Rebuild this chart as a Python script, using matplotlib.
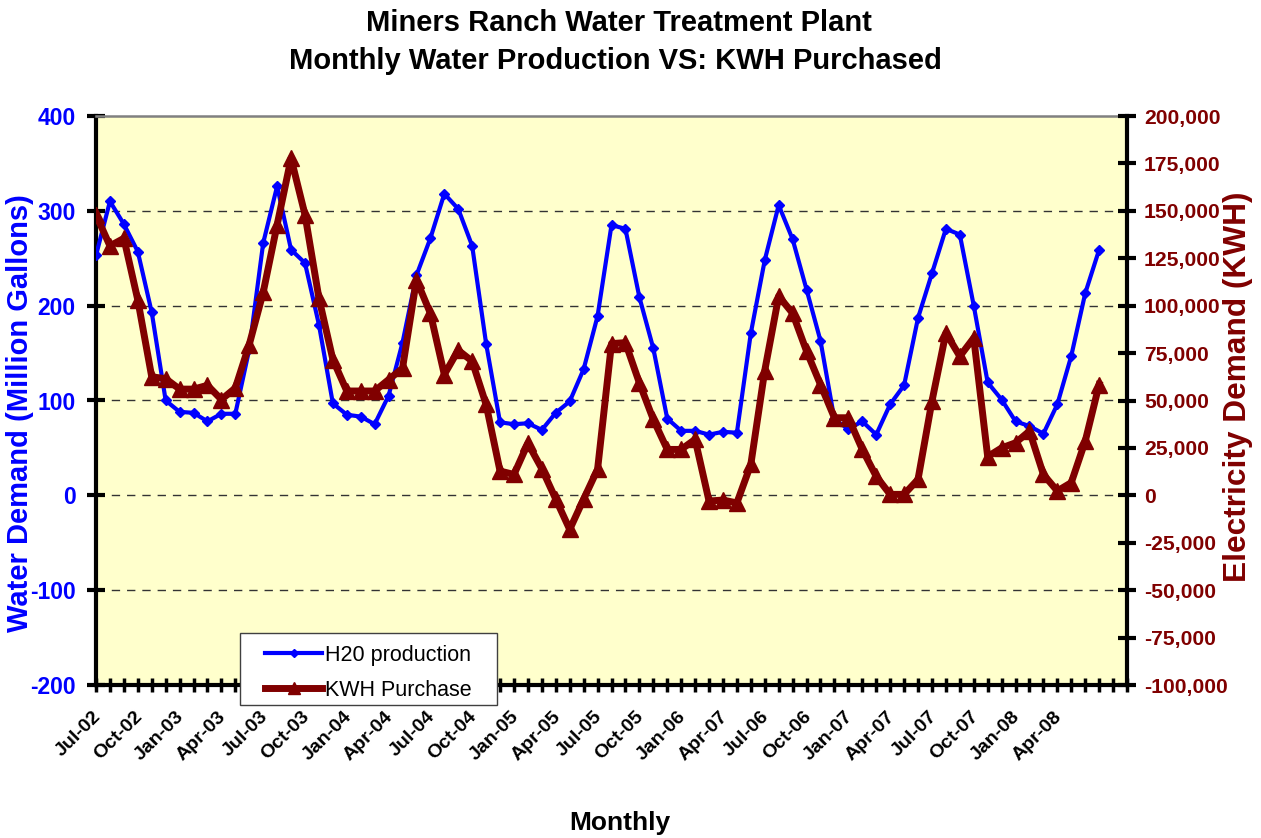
import matplotlib
matplotlib.use("Agg")
import matplotlib.pyplot as plt
import matplotlib.transforms as mtransforms
from matplotlib.patches import Rectangle
from matplotlib.ticker import FuncFormatter, MultipleLocator

plt.rcParams['font.family'] = ['Liberation Sans', 'DejaVu Sans']
plt.rcParams['axes.unicode_minus'] = False

# ---------------- data ----------------
tick_names = ["Jul-02", "Oct-02", "Jan-03", "Apr-03", "Jul-03", "Oct-03", "Jan-04", "Apr-04",
              "Jul-04", "Oct-04", "Jan-05", "Apr-05", "Jul-05", "Oct-05", "Jan-06", "Apr-07",
              "Jul-06", "Oct-06", "Jan-07", "Apr-07", "Jul-07", "Oct-07", "Jan-08", "Apr-08"]

h2o_production = [253, 310, 286, 257, 193, 100, 88, 87, 78, 86, 86, 154,
                  266, 326, 259, 245, 180, 97, 85, 83, 75, 105, 161, 232,
                  271, 318, 302, 263, 160, 77, 75, 76, 69, 87, 99, 133,
                  189, 285, 281, 209, 155, 81, 68, 68, 64, 67, 66, 171,
                  248, 306, 270, 217, 163, 80, 70, 78, 64, 96, 116, 187,
                  234, 281, 275, 200, 119, 101, 78, 73, 65, 96, 147, 213,
                  259]

kwh_purchase = [147900, 131500, 135500, 103000, 62500, 61500, 56000, 56000, 58000, 50500, 56600, 79500,
                107000, 142600, 177700, 148000, 104000, 71600, 55000, 55000, 55000, 61000, 67000, 113600,
                96000, 63700, 76500, 70700, 47900, 12800, 11000, 27400, 14000, -2000, -18000, -2000,
                13700, 80000, 80500, 59300, 40000, 24200, 24200, 29500, -3000, -2500, -4000, 16300,
                65800, 105000, 96000, 76000, 58400, 40900, 40900, 24200, 10000, 500, 500, 8400,
                49600, 85600, 73300, 83000, 20400, 25000, 27700, 33900, 11000, 2300, 6700, 28500,
                58400]

n_categories = 75
label_step = 3

# ---------------- figure ----------------
W, H = 1261, 838
fig = plt.figure(figsize=(W / 100, H / 100), dpi=100)
L, R, B, T = 96 / W, 1127 / W, (H - 685) / H, (H - 116) / H
ax = fig.add_axes([L, B, R - L, T - B])
ax2 = ax.twinx()

BLUE = '#0000FF'
DRED = '#800000'

ax.set_facecolor('#FFFFCC')
ax2.patch.set_visible(False)

x = list(range(len(h2o_production)))
l1, = ax.plot(x, h2o_production, color=BLUE, lw=3.0, marker='D', ms=5.5,
              mec=BLUE, mfc=BLUE, label='H20 production', zorder=3)
l2, = ax2.plot(x, kwh_purchase, color=DRED, lw=5.0, marker='^', ms=11.5,
               mec=DRED, mfc=DRED, label='KWH Purchase', zorder=3)

ax.set_xlim(0, n_categories - 1)
ax.set_ylim(-200, 400)
ax2.set_ylim(-100000, 200000)

# grid
for v in [300, 200, 100, 0, -100]:
    ax.axhline(v, color='#333333', lw=1.0, ls=(0, (6, 5)), zorder=1)

# spines
for s in ['left', 'bottom']:
    ax.spines[s].set_color('black')
    ax.spines[s].set_linewidth(3)
ax.spines['top'].set_color('#808080')
ax.spines['top'].set_linewidth(1.8)
ax.spines['right'].set_visible(False)
for s in ['left', 'top', 'bottom']:
    ax2.spines[s].set_visible(False)
ax2.spines['right'].set_color('black')
ax2.spines['right'].set_linewidth(3)

# x ticks
labels = []
for i in range(n_categories):
    k = i // label_step
    if i % label_step == 0 and k < len(tick_names):
        labels.append(tick_names[k])
    else:
        labels.append('')
ax.set_xticks(range(n_categories))
ax.set_xticklabels(labels, rotation=45, ha='right', va='center', rotation_mode='anchor',
                   fontsize=14, fontweight='bold')
ax.tick_params(axis='x', direction='inout', length=10, width=2.5, pad=16, color='black')
offset = mtransforms.ScaledTranslation(2 / 100, 0, fig.dpi_scale_trans)
for t in ax.get_xticklabels():
    t.set_transform(t.get_transform() + offset)

# left y
ax.yaxis.set_major_locator(MultipleLocator(100))
ax.tick_params(axis='y', direction='inout', length=13, width=3, pad=8.0,
               labelsize=16.5, labelcolor=BLUE)
for t in ax.get_yticklabels():
    t.set_fontweight('bold')

# right y
ax2.yaxis.set_major_locator(MultipleLocator(25000))
ax2.yaxis.set_major_formatter(FuncFormatter(lambda v, p: f"{int(v):,}"))
ax2.tick_params(axis='y', direction='inout', length=13, width=3, pad=5.7,
                labelsize=15.2, labelcolor=DRED)
for t in ax2.get_yticklabels():
    t.set_fontweight('bold')

# titles
fig.text(619 / W, 1 - 23 / H, 'Miners Ranch Water Treatment Plant', ha='center', va='center',
         fontsize=21, fontweight='bold')
fig.text(615 / W, 1 - 61 / H, 'Monthly Water Production VS: KWH Purchased', ha='center', va='center',
         fontsize=21, fontweight='bold')
fig.text(20 / W, 1 - 413 / H, 'Water Demand (Million Gallons)', rotation=90, ha='center', va='center',
         fontsize=21, fontweight='bold', color=BLUE)
fig.text(1238 / W, 1 - 387 / H, 'Electricity Demand (KWH)', rotation=90, ha='center', va='center',
         fontsize=22.8, fontweight='bold', color=DRED)
fig.text(620 / W, 1 - 823 / H, 'Monthly', ha='center', va='center',
         fontsize=19, fontweight='bold')

# legend box + legend
box = Rectangle((240 / W, 1 - 705 / H), 257 / W, 72 / H, transform=fig.transFigure,
                facecolor='white', edgecolor='#404040', lw=1.0, zorder=5)
fig.patches.append(box)
leg = fig.legend(handles=[l1, l2], loc='upper left', bbox_to_anchor=(265 / W, 1 - 645 / H),
                 bbox_transform=fig.transFigure, borderaxespad=0, borderpad=0, frameon=False,
                 fontsize=15.5, handlelength=2.65, handletextpad=0.15, labelspacing=0.65,
                 markerscale=0.8)
leg.set_zorder(6)

fig.savefig('out.png', dpi=100, facecolor='white')
